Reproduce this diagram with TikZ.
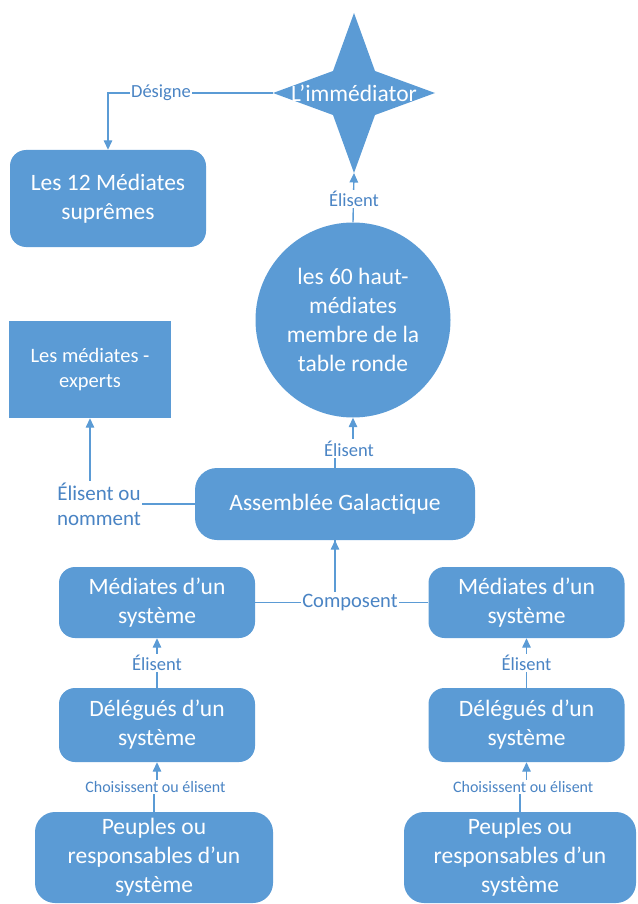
\documentclass[tikz,border=0pt]{standalone}
\usepackage{fontspec}
\setmainfont[Ligatures={NoCommon}]{Carlito}
\usetikzlibrary{arrows.meta,calc}
\definecolor{boxblue}{HTML}{5B9BD5}
\definecolor{lblblue}{HTML}{4A84C4}
\begin{document}
\begin{tikzpicture}[x=1pt,y=-1pt,
  box/.style={fill=boxblue, text=white, rounded corners=16pt, align=center,
    font=\fontsize{23.5}{29}\selectfont, inner sep=0pt},
  lbl/.style={fill=white, text=lblblue, inner sep=1.5pt,
    font=\fontsize{18.5}{22}\selectfont, align=center},
  conn/.style={draw=boxblue, line width=1.4pt},
  arr/.style={conn, -{Triangle[width=8.5pt,length=9.5pt]}}]
\useasboundingbox (0,0) rectangle (637,904);

% star
\fill[boxblue] (354,13) -- (375,71) -- (435,93) -- (375,115) -- (354,173)
  -- (333,115) -- (273,93) -- (333,71) -- cycle;
\node[text=white, font=\fontsize{23.5}{29}\selectfont] (imm) at (354,93) {L’immédiator};
\coordinate (starL) at (273,93);
\coordinate (starB) at (354,173);

% boxes
\node[box, minimum width=196pt, minimum height=97pt] (sup) at (108,198.5)
  {Les 12 Médiates\\suprêmes};
\node[box, circle, minimum size=195pt] (circ) at (353,320)
  {les 60 haut-\\médiates\\membre de la\\table ronde};
\node[box, rounded corners=0pt, minimum width=162pt, minimum height=97pt,
  font=\fontsize{20.5}{25}\selectfont] (exp) at (90,369.5)
  {Les médiates -\\experts};
\node[box, rounded corners=22pt, minimum width=280pt, minimum height=72pt] (ag) at (335,504)
  {Assemblée Galact\kern0pt ique};
\node[box, minimum width=196pt, minimum height=71pt] (medL) at (157,602.5)
  {Médiates d’un\\système};
\node[box, minimum width=196pt, minimum height=71pt] (medR) at (526.5,602.5)
  {Médiates d’un\\système};
\node[box, minimum width=196pt, minimum height=74pt] (delL) at (157,725)
  {Délégués d’un\\système};
\node[box, minimum width=196pt, minimum height=74pt] (delR) at (526.5,725)
  {Délégués d’un\\système};
\node[box, rounded corners=20pt, minimum width=238pt, minimum height=91pt] (peuL) at (154,857.5)
  {Peuples ou\\responsables d’un\\système};
\node[box, rounded corners=20pt, minimum width=232pt, minimum height=91pt] (peuR) at (520,857.5)
  {Peuples ou\\responsables d’un\\système};

% connectors
\draw[arr] (starL) -| (sup.north);
\node[lbl] (l1) at (161,93) {Désigne};

\draw[arr] (circ.north) -- (starB);
\node[lbl] (l2) at (354,199) {Élisent};

\coordinate (m3) at ($(circ.south)!0.5!(ag.north)$);
\draw[arr] (ag.north) |- (m3) -| (circ.south);
\node[lbl] (l3) at ($(m3)+(5,6)$) {Élisent};

\draw[arr] (ag.west) -| (exp.south);
\node[lbl, font=\fontsize{21}{25}\selectfont] (l4) at (99,504) {Élisent ou\\nomment};

\draw[arr] (medL.east) -| (ag.south);
\draw[conn] (medR.west) -| (ag.south);
\node[lbl, font=\fontsize{20.5}{24}\selectfont] (l5) at (350,602) {Composent};

\draw[arr] (delL.north) -- (medL.south);
\node[lbl] (l6) at ($(delL.north)!0.5!(medL.south)$) {Élisent};
\draw[arr] (delR.north) -- (medR.south);
\node[lbl] (l7) at ($(delR.north)!0.5!(medR.south)$) {Élisent};

\coordinate (m8) at ($(peuL.north)!0.5!(delL.south)$);
\draw[arr] (peuL.north) |- (m8) -| (delL.south);
\node[lbl, font=\fontsize{16}{19}\selectfont] (l8) at (m8) {Choisissent ou élisent};
\coordinate (m9) at ($(peuR.north)!0.5!(delR.south)$);
\draw[arr] (peuR.north) |- (m9) -| (delR.south);
\node[lbl, font=\fontsize{16}{19}\selectfont] (l9) at (m9) {Choisissent ou élisent};
\end{tikzpicture}
\end{document}
